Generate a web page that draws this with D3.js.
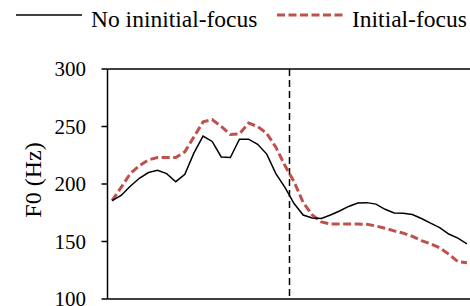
<!DOCTYPE html>
<html>
<head>
<meta charset="utf-8">
<script src="https://cdn.jsdelivr.net/npm/d3@7"></script>
<style>
  body { margin: 0; background: #fff; }
  svg text { fill: #000; }
  .t2 { font-family: 'Liberation Serif'; }
</style>
</head>
<body>
<svg id="chart" width="470" height="306" font-family="Times New Roman"></svg>
<script>
// time samples (normalized), 40 per utterance
const timePoints = d3.range(40).map(i => i + 0.5);
// F0 in Hz
const noInitialFocus = [185.5, 190, 198, 205, 210, 212, 209, 202, 208.5, 227,
    241.7, 237, 223.5, 223, 239, 239, 234.5, 226, 209, 197,
    183, 173, 170.5, 170, 173, 176.5, 180.5, 183.5, 183.8, 182.5,
    178, 174.8, 174.5, 173.5, 170, 166, 162, 156.5, 153, 148];
const initialFocus = [185.5, 197, 209, 216, 221, 223, 223, 223, 228, 241,
    254, 256, 250, 243, 243.5, 253, 250, 244, 232, 216,
    202, 184, 173, 167, 165.2, 165.2, 165.2, 165.2, 165, 163.5,
    161.5, 159.2, 157.3, 154.5, 150.8, 148, 144.5, 139, 132.5, 131.5];
const yTicks = [100, 150, 200, 250, 300];
const boundary = 20;
const seriesNames = ['No ininitial-focus', 'Initial-focus'];

const svg = d3.select('#chart');

const x = d3.scaleLinear().domain([0, 40]).range([107.5, 471.5]);
const y = d3.scaleLinear().domain([100, 300]).range([299, 69]);

// frame
const frame = svg.append('g').attr('stroke', '#000').attr('stroke-width', 1.5);
frame.append('line').attr('x1', x(0)).attr('x2', 470).attr('y1', y(300)).attr('y2', y(300));
frame.append('line').attr('x1', x(0)).attr('x2', 470).attr('y1', y(100)).attr('y2', y(100));

// y axis, drawn by hand so no sans-serif font gets set on the group
const yAxis = svg.append('g');
yAxis.append('line')
    .attr('x1', x(0)).attr('x2', x(0)).attr('y1', y(300)).attr('y2', y(100))
    .attr('stroke', '#000').attr('stroke-width', 1.5);
yAxis.selectAll('line.tick')
    .data(yTicks)
    .join('line')
    .attr('class', 'tick')
    .attr('x1', x(0) - 6).attr('x2', x(0))
    .attr('y1', d => y(d)).attr('y2', d => y(d))
    .attr('stroke', '#000').attr('stroke-width', 1.5);
yAxis.selectAll('text')
    .data(yTicks)
    .join('text')
    .attr('class', 't2')
    .attr('x', 86).attr('y', d => y(d) + 7)
    .attr('text-anchor', 'end')
    .attr('font-size', 21)
    .text(d => d);

svg.append('text')
    .attr('class', 't2')
    .attr('transform', `translate(41,${y(200) - 4}) rotate(-90)`)
    .attr('text-anchor', 'middle')
    .attr('font-size', 24)
    .text('F0 (Hz)');

// boundary
svg.append('line')
    .attr('x1', x(boundary)).attr('x2', x(boundary))
    .attr('y1', y(300)).attr('y2', y(100))
    .attr('stroke', '#000').attr('stroke-width', 1.5)
    .attr('stroke-dasharray', '7,4');

const line = d3.line().x((d, i) => x(timePoints[i])).y(d => y(d));

svg.append('path')
    .datum(initialFocus)
    .attr('fill', 'none')
    .attr('stroke', '#c0504d')
    .attr('stroke-width', 3)
    .attr('stroke-dasharray', '8,3.5')
    .attr('d', line);

svg.append('path')
    .datum(noInitialFocus)
    .attr('fill', 'none')
    .attr('stroke', '#000')
    .attr('stroke-width', 1.5)
    .attr('d', line);

// legend
svg.append('line').attr('x1', 16).attr('x2', 82).attr('y1', 15).attr('y2', 15)
    .attr('stroke', '#000').attr('stroke-width', 1.5);
svg.append('text').attr('class', 't2')
    .attr('x', 91).attr('y', 26.5).attr('font-size', 23.5).text(seriesNames[0]);
svg.append('line').attr('x1', 277).attr('x2', 344).attr('y1', 15).attr('y2', 15)
    .attr('stroke', '#c0504d').attr('stroke-width', 3).attr('stroke-dasharray', '8,3.5');
svg.append('text').attr('class', 't2')
    .attr('x', 352).attr('y', 26.5).attr('font-size', 23.5).text(seriesNames[1]);
</script>
</body>
</html>
